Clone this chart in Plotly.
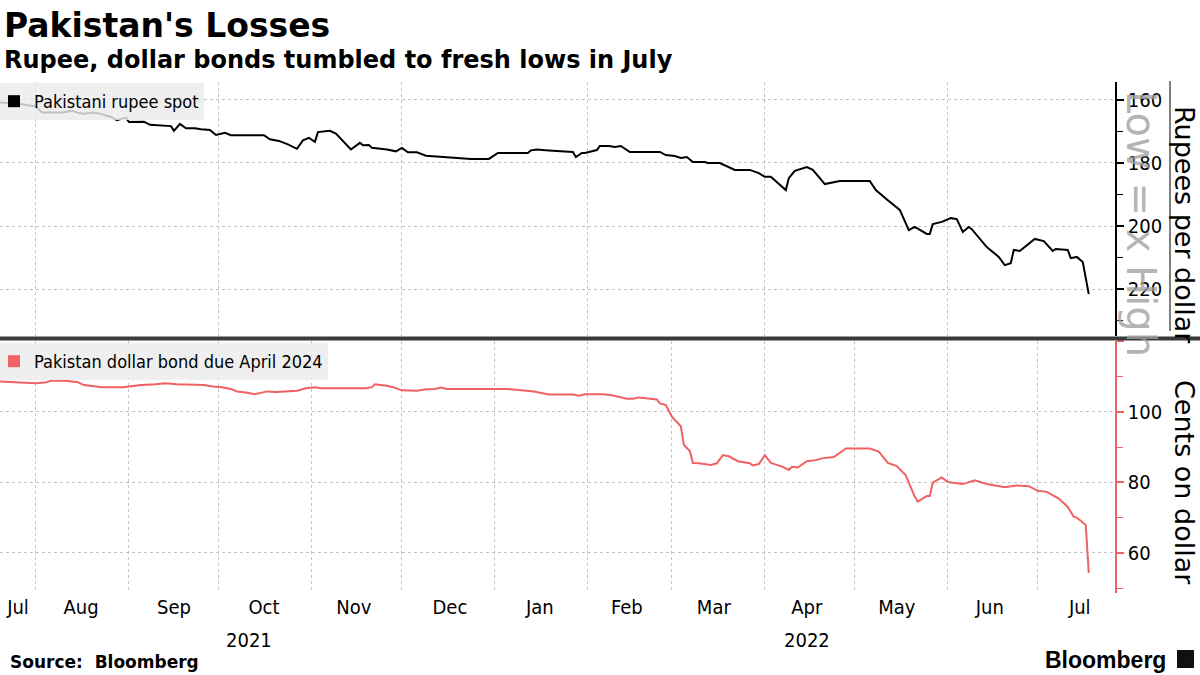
import plotly.graph_objects as go

# ---------------- data ----------------
rupee_dates = [
    "2021-07-20", "2021-07-27", "2021-08-01", "2021-08-03", "2021-08-10", "2021-08-13",
    "2021-08-15", "2021-08-17", "2021-08-20", "2021-08-22", "2021-08-26", "2021-08-28",
    "2021-08-31", "2021-09-01", "2021-09-06", "2021-09-08", "2021-09-15", "2021-09-16",
    "2021-09-18", "2021-09-20", "2021-09-23", "2021-09-25", "2021-09-28", "2021-09-30",
    "2021-10-03", "2021-10-05", "2021-10-16", "2021-10-18", "2021-10-21", "2021-10-24",
    "2021-10-27", "2021-10-29", "2021-10-31", "2021-11-02", "2021-11-03", "2021-11-07",
    "2021-11-09", "2021-11-11", "2021-11-14", "2021-11-17", "2021-11-18", "2021-11-20",
    "2021-11-21", "2021-11-26", "2021-11-29", "2021-12-01", "2021-12-03", "2021-12-06",
    "2021-12-09", "2021-12-16", "2021-12-21", "2021-12-24", "2021-12-30", "2022-01-02",
    "2022-01-06", "2022-01-12", "2022-01-13", "2022-01-15", "2022-01-19", "2022-01-22",
    "2022-01-27", "2022-01-28", "2022-01-30", "2022-01-31", "2022-02-04", "2022-02-05",
    "2022-02-08", "2022-02-10", "2022-02-12", "2022-02-15", "2022-02-19", "2022-02-25",
    "2022-02-27", "2022-03-02", "2022-03-04", "2022-03-06", "2022-03-08", "2022-03-12",
    "2022-03-13", "2022-03-17", "2022-03-22", "2022-03-27", "2022-03-30", "2022-04-01",
    "2022-04-03", "2022-04-08", "2022-04-09", "2022-04-11", "2022-04-15", "2022-04-17",
    "2022-04-21", "2022-04-26", "2022-05-06", "2022-05-08", "2022-05-12", "2022-05-16",
    "2022-05-19", "2022-05-21", "2022-05-25", "2022-05-26", "2022-05-27", "2022-05-30",
    "2022-06-02", "2022-06-04", "2022-06-06", "2022-06-08", "2022-06-09", "2022-06-14",
    "2022-06-18", "2022-06-20", "2022-06-22", "2022-06-23", "2022-06-25", "2022-06-30",
    "2022-07-03", "2022-07-06", "2022-07-07", "2022-07-11", "2022-07-12", "2022-07-14",
    "2022-07-16", "2022-07-18",
]
rupee_values = [
    160.8, 161.3, 162.1, 164.0, 164.0, 163.4,
    164.1, 164.4, 164.0, 164.3, 165.4, 166.4,
    165.6, 167.0, 166.9, 167.9, 168.3, 169.8,
    167.6, 169.0, 169.0, 169.3, 169.5, 171.1,
    170.4, 171.2, 171.2, 172.5, 173.0, 174.1,
    175.5, 172.8, 172.0, 173.3, 170.2, 169.8,
    170.7, 172.8, 175.7, 173.6, 174.4, 174.3,
    175.2, 175.7, 176.3, 175.2, 176.6, 176.6,
    177.7, 178.2, 178.4, 178.7, 178.7, 176.8,
    176.8, 176.8, 176.0, 175.7, 176.0, 176.2,
    176.5, 178.1, 176.8, 176.8, 175.9, 174.6,
    174.6, 174.9, 174.6, 176.5, 176.5, 176.5,
    177.5, 177.8, 178.4, 178.1, 179.7, 179.7,
    180.0, 180.0, 182.2, 182.2, 183.2, 184.4,
    184.4, 188.6, 184.8, 182.5, 181.3, 182.2,
    186.7, 185.7, 185.7, 188.6, 191.8, 194.9,
    201.3, 200.3, 202.5, 202.5, 199.4, 198.7,
    197.5, 197.8, 201.9, 200.3, 201.0, 206.7,
    209.8, 212.4, 211.8, 207.6, 207.9, 204.1,
    204.8, 207.9, 207.3, 207.6, 210.2, 209.8,
    211.4, 221.6,
]

bond_dates = [
    "2021-07-20", "2021-07-27", "2021-08-01", "2021-08-04", "2021-08-06", "2021-08-11",
    "2021-08-15", "2021-08-17", "2021-08-23", "2021-08-30", "2021-09-02", "2021-09-05",
    "2021-09-10", "2021-09-13", "2021-09-17", "2021-09-26", "2021-09-29", "2021-10-02",
    "2021-10-05", "2021-10-07", "2021-10-10", "2021-10-13", "2021-10-17", "2021-10-20",
    "2021-10-23", "2021-10-27", "2021-10-30", "2021-11-02", "2021-11-04", "2021-11-13",
    "2021-11-16", "2021-11-19", "2021-11-21", "2021-11-22", "2021-11-26", "2021-11-28",
    "2021-12-01", "2021-12-06", "2021-12-09", "2021-12-12", "2021-12-14", "2021-12-16",
    "2022-01-05", "2022-01-08", "2022-01-11", "2022-01-14", "2022-01-19", "2022-01-27",
    "2022-01-29", "2022-01-31", "2022-02-06", "2022-02-09", "2022-02-14", "2022-02-16",
    "2022-02-18", "2022-02-23", "2022-02-24", "2022-02-25", "2022-02-27", "2022-03-01",
    "2022-03-04", "2022-03-05", "2022-03-07", "2022-03-08", "2022-03-10", "2022-03-14",
    "2022-03-16", "2022-03-18", "2022-03-20", "2022-03-23", "2022-03-27", "2022-03-28",
    "2022-03-30", "2022-04-01", "2022-04-03", "2022-04-07", "2022-04-09", "2022-04-10",
    "2022-04-12", "2022-04-15", "2022-04-18", "2022-04-20", "2022-04-24", "2022-04-28",
    "2022-05-06", "2022-05-09", "2022-05-12", "2022-05-15", "2022-05-18", "2022-05-21",
    "2022-05-22", "2022-05-25", "2022-05-26", "2022-05-27", "2022-05-30", "2022-06-01",
    "2022-06-06", "2022-06-10", "2022-06-14", "2022-06-20", "2022-06-24", "2022-06-28",
    "2022-07-01", "2022-07-04", "2022-07-08", "2022-07-11", "2022-07-13", "2022-07-14",
    "2022-07-17", "2022-07-18",
]
bond_values = [
    108.6, 108.4, 108.1, 108.3, 108.8, 108.8,
    108.4, 107.6, 107.0, 107.0, 107.4, 107.6,
    107.8, 108.1, 107.8, 107.6, 107.2, 107.0,
    106.5, 105.8, 105.5, 105.0, 105.8, 105.6,
    105.8, 106.0, 106.7, 107.0, 106.7, 106.7,
    106.5, 106.7, 107.0, 107.8, 107.4, 107.0,
    106.1, 106.0, 106.4, 106.5, 106.9, 106.5,
    106.5, 106.2, 106.0, 105.8, 104.9, 104.9,
    104.6, 105.0, 105.0, 104.7, 103.7, 103.7,
    104.1, 103.7, 103.5, 102.4, 101.9, 98.6,
    95.9, 90.6, 88.9, 85.5, 85.4, 84.9,
    85.4, 87.7, 87.4, 86.0, 85.4, 84.8,
    85.2, 87.7, 85.5, 84.4, 83.5, 84.4,
    84.2, 86.0, 86.3, 86.8, 87.2, 89.6,
    89.6, 88.7, 85.5, 84.6, 82.0, 75.9,
    74.5, 76.1, 76.1, 79.9, 81.4, 80.1,
    79.5, 80.6, 79.5, 78.6, 79.1, 78.9,
    77.6, 77.3, 75.4, 73.0, 70.2, 70.0,
    67.9, 54.3,
]

month_tick_dates = [
    "2021-07-26", "2021-08-16", "2021-09-16", "2021-10-16", "2021-11-15", "2021-12-17",
    "2022-01-16", "2022-02-14", "2022-03-15", "2022-04-15", "2022-05-15", "2022-06-15",
    "2022-07-15",
]
month_tick_labels = ["Jul", "Aug", "Sep", "Oct", "Nov", "Dec", "Jan", "Feb", "Mar",
                     "Apr", "May", "Jun", "Jul"]
year_label_dates = ["2021-10-11", "2022-04-15"]
year_labels = ["2021", "2022"]

rupee_ticks = [160, 180, 200, 220]
bond_ticks = [60, 80, 100, 120]
bond_tick_text = ["60", "80", "100", ""]

# ---------------- layout helpers (pixel -> paper) ----------------
W, H = 1200, 675
ML, MR, MT, MB = 0, 85, 82, 82
PH = H - MT - MB
PW = W - ML - MR


def py(y):
    return (H - MB - y) / PH


def px(x):
    return (x - ML) / PW


RED = "#f06262"
GRID = "#c4c4c4"
TICKFONT = dict(family="DejaVu Sans Condensed, Liberation Sans, sans-serif", size=20, color="#000")
LEGFONT = dict(family="DejaVu Sans Condensed, Liberation Sans, sans-serif", size=18, color="#000")
X_RANGE = ["2021-07-20", "2022-07-26 18:00"]

fig = go.Figure()

fig.add_trace(go.Scatter(x=rupee_dates, y=rupee_values, mode="lines",
                         line=dict(color="#000000", width=2), showlegend=False,
                         xaxis="x", yaxis="y", hoverinfo="skip"))
fig.add_trace(go.Scatter(x=[None], y=[None], mode="markers", name="Pakistani rupee spot",
                         marker=dict(symbol="square", size=12, color="#000000"),
                         xaxis="x", yaxis="y", legend="legend"))
fig.add_trace(go.Scatter(x=bond_dates, y=bond_values, mode="lines",
                         line=dict(color=RED, width=2), showlegend=False,
                         xaxis="x2", yaxis="y2", hoverinfo="skip"))
fig.add_trace(go.Scatter(x=[None], y=[None], mode="markers",
                         name="Pakistan dollar bond due April 2024",
                         marker=dict(symbol="square", size=12, color=RED),
                         xaxis="x2", yaxis="y2", legend="legend2"))

minor_x = dict(dtick="M1", tick0="2021-08-01", showgrid=True, gridcolor=GRID,
               griddash="dot", gridwidth=1, ticks="")

fig.update_layout(
    width=W, height=H,
    margin=dict(l=ML, r=MR, t=MT, b=MB, autoexpand=False),
    paper_bgcolor="white", plot_bgcolor="white",
    xaxis=dict(domain=[0, 1], anchor="y", type="date", range=X_RANGE,
               showticklabels=False, showgrid=False, zeroline=False, showline=False,
               ticks="", minor=minor_x),
    xaxis2=dict(domain=[0, 1], anchor="y2", type="date", range=X_RANGE, matches="x",
                tickmode="array", tickvals=month_tick_dates, ticktext=month_tick_labels,
                tickfont=TICKFONT, showgrid=False, zeroline=False, showline=False,
                ticks="", minor=minor_x),
    yaxis=dict(domain=[py(336), 1], anchor="x", side="right", range=[234.9, 154.3],
               tickmode="array", tickvals=rupee_ticks, tickfont=TICKFONT,
               showgrid=True, gridcolor=GRID, griddash="dot", gridwidth=1,
               zeroline=False, showline=True, linecolor="#000", linewidth=1.5,
               ticks="outside", ticklen=7, tickwidth=2, tickcolor="#000",
               minor=dict(dtick=10, tick0=160, ticks="outside", ticklen=6,
                          tickwidth=1, tickcolor="#000", showgrid=False)),
    yaxis2=dict(domain=[0, py(341)], anchor="x2", side="right", range=[48.6, 120.1],
                tickmode="array", tickvals=bond_ticks, ticktext=bond_tick_text,
                tickfont=TICKFONT,
                showgrid=True, gridcolor=GRID, griddash="dot", gridwidth=1,
                zeroline=False, showline=True, linecolor=RED, linewidth=1.5,
                ticks="outside", ticklen=7, tickwidth=2, tickcolor=RED,
                minor=dict(dtick=10, tick0=50, ticks="outside", ticklen=6,
                           tickwidth=1, tickcolor=RED, showgrid=False)),
    legend=dict(x=px(-6), y=py(83), xanchor="left", yanchor="top",
                bgcolor="rgba(236,236,236,0.82)", borderwidth=0, font=LEGFONT,
                itemclick=False, itemdoubleclick=False),
    legend2=dict(x=px(-6), y=py(343), xanchor="left", yanchor="top",
                 bgcolor="rgba(236,236,236,0.82)", borderwidth=0, font=LEGFONT,
                 itemclick=False, itemdoubleclick=False),
    showlegend=True,
    hovermode=False,
)

shapes = [
    # divider between panels
    dict(type="line", xref="paper", yref="paper", x0=px(0), x1=px(W), y0=py(338.5), y1=py(338.5),
         line=dict(color="#3a3a3a", width=4)),
    # thin vertical rule next to the upper axis labels
    dict(type="line", xref="paper", yref="paper", x0=px(1170), x1=px(1170), y0=py(331), y1=py(81),
         line=dict(color="#000", width=1)),
    # logo mark
    dict(type="rect", xref="paper", yref="paper", x0=px(1177), x1=px(1194), y0=py(668), y1=py(650),
         fillcolor="#111", line=dict(width=0)),
]
fig.update_layout(shapes=shapes)

annotations = [
    dict(text="<b>Pakistan's Losses</b>", x=px(2), y=py(25), xanchor="left", yanchor="middle",
         font=dict(family="DejaVu Sans", size=33, color="#000")),
    dict(text="<b>Rupee, dollar bonds tumbled to fresh lows in July</b>", x=px(2), y=py(60),
         xanchor="left", yanchor="middle",
         font=dict(family="DejaVu Sans", size=24, color="#000")),
    dict(text="Rupees per dollar", x=px(1185), y=py(225), textangle=90,
         xanchor="center", yanchor="middle",
         font=dict(family="DejaVu Sans", size=27, color="#000")),
    dict(text="Cents on dollar", x=px(1185), y=py(482), textangle=90,
         xanchor="center", yanchor="middle",
         font=dict(family="DejaVu Sans", size=27, color="#000")),
    dict(text="Low = x High", x=px(1141), y=py(224), textangle=90,
         xanchor="center", yanchor="middle",
         font=dict(family="DejaVu Sans", size=40, color="rgba(160,160,160,0.8)")),
    dict(text="<b>Source:  Bloomberg</b>", x=px(8), y=py(662), xanchor="left", yanchor="middle",
         font=dict(family="DejaVu Sans", size=17, color="#000")),
    dict(text="<b>Bloomberg</b>", x=px(1168), y=py(660), xanchor="right", yanchor="middle",
         font=dict(family="Liberation Sans, Arial, sans-serif", size=23, color="#000")),
]
for d, t in zip(year_label_dates, year_labels):
    annotations.append(dict(text=t, x=d, xref="x2", y=py(640), yref="paper",
                            xanchor="center", yanchor="middle", showarrow=False,
                            font=TICKFONT))
for a in annotations:
    a.setdefault("xref", "paper")
    a.setdefault("yref", "paper")
    a.setdefault("showarrow", False)
fig.update_layout(annotations=annotations)

fig.write_html("out.html", config={"displayModeBar": False},
               post_script="document.body.style.margin='0px';document.body.style.padding='0px';")
